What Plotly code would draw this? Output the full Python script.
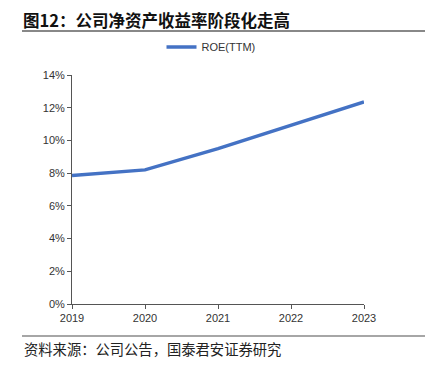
import plotly.graph_objects as go

years = [2019, 2020, 2021, 2022, 2023]
roe = [7.85, 8.2, 9.5, 10.95, 12.35]
y_ticks = [0, 2, 4, 6, 8, 10, 12, 14]
y_tick_labels = [f"{v}%" for v in y_ticks]
series_name = "ROE(TTM)"
title_text = "图12：公司净资产收益率阶段化走高"
source_text = "资料来源：公司公告，国泰君安证券研究"

# page has an 8px body margin; compensate so screen positions match
OFF = 8
L, T, PW, PH = 72 - OFF, 75 - OFF, 292, 229
FW, FH = 436, 365

fig = go.Figure()
fig.add_trace(go.Scatter(x=years, y=roe, mode="lines", name=series_name,
                         line=dict(color="#4472C4", width=3.5)))

fig.update_layout(
    width=FW, height=FH,
    margin=dict(l=L, r=FW - L - PW, t=T, b=FH - T - PH),
    paper_bgcolor="white", plot_bgcolor="white",
    font=dict(family="Liberation Sans, Arial, sans-serif", size=11, color="#222"),
    showlegend=True,
)
fig.update_xaxes(range=[2019, 2023], tickvals=years, ticktext=[str(y) for y in years],
                 showline=True, linecolor="#555", linewidth=1, ticks="outside",
                 ticklen=4, tickcolor="#555", showgrid=False, zeroline=False,
                 tickfont=dict(size=11, color="#333"))
fig.update_yaxes(range=[0, 14], tickvals=y_ticks, ticktext=y_tick_labels,
                 showline=True, linecolor="#555", linewidth=1, ticks="outside",
                 ticklen=4, tickcolor="#555", showgrid=False, zeroline=False,
                 tickfont=dict(size=11, color="#333"))

def px(pix):
    return (pix - OFF - L) / PW
def py(pix):
    return (T + PH - (pix - OFF)) / PH

fig.update_layout(legend=dict(orientation="h", x=px(211), xanchor="center",
                              y=py(47), yanchor="middle",
                              font=dict(size=11, color="#333")))

fig.add_annotation(text="<b>" + title_text + "</b>", xref="paper", yref="paper",
                   x=px(21), y=py(20), xanchor="left", yanchor="middle",
                   showarrow=False, font=dict(family="Noto Sans CJK SC", size=16.5, color="#111"))
fig.add_shape(type="line", xref="paper", yref="paper", x0=px(22), x1=px(425),
              y0=py(31), y1=py(31), line=dict(color="#888", width=2))
fig.add_shape(type="line", xref="paper", yref="paper", x0=px(22), x1=px(425),
              y0=py(336), y1=py(336), line=dict(color="#888", width=1.5))
fig.add_annotation(text=source_text, xref="paper", yref="paper",
                   x=px(22), y=py(348), xanchor="left", yanchor="middle",
                   showarrow=False, font=dict(family="Noto Sans CJK SC", size=14.3, color="#222"))

fig.write_html("out.html")
